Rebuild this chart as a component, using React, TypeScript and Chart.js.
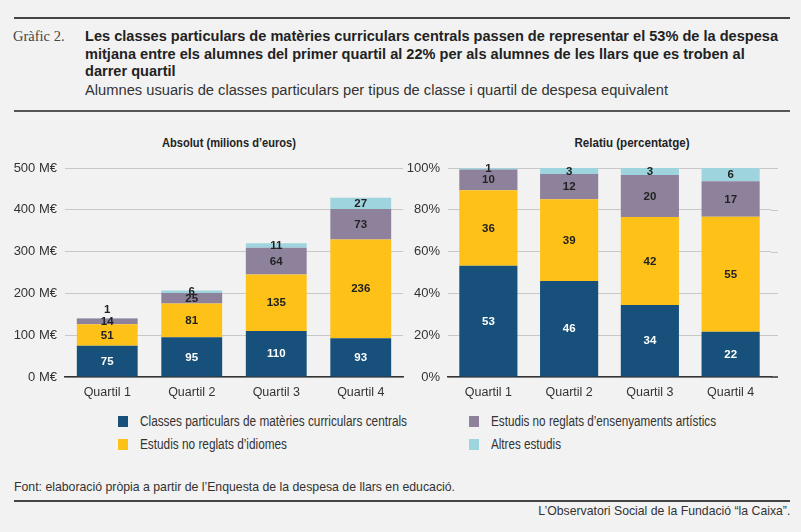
import React, { useEffect, useLayoutEffect, useRef } from "react";
import { Chart, registerables } from "chart.js";

Chart.register(...registerables);

// ---------- data ----------
const categories = ["Quartil 1", "Quartil 2", "Quartil 3", "Quartil 4"];
const seriesNames = [
  "Classes particulars de matèries curriculars centrals",
  "Estudis no reglats d’idiomes",
  "Estudis no reglats d’ensenyaments artístics",
  "Altres estudis",
];
// Absolute (millions of euros)
const absCentrals = [75, 95, 110, 93];
const absIdiomes = [51, 81, 135, 236];
const absArtistics = [14, 25, 64, 73];
const absAltres = [1, 6, 11, 27];
// Relative (percentage), labels rounded
const relCentrals = [53.2, 45.9, 34.4, 21.7];
const relIdiomes = [36.2, 39.1, 42.2, 55.0];
const relArtistics = [9.9, 12.1, 20.0, 17.0];
const relAltres = [0.7, 2.9, 3.4, 6.3];

const absTicks = { max: 500, step: 100, suffix: " M€" };
const relTicks = { max: 100, step: 20, suffix: "%" };

const COLORS = ["#17507a", "#fec118", "#8e819c", "#9ed4de"];
const BG = "#f2f2f2";
const GRID = "#c8c8c8";
const SANS = '"Liberation Sans", Arial, sans-serif';

const segLabels = {
  id: "segLabels",
  afterDatasetsDraw(chart: any) {
    const { ctx } = chart;
    ctx.save();
    ctx.font = `bold 11.5px ${SANS}`;
    ctx.textAlign = "center";
    ctx.textBaseline = "middle";
    const n = chart.data.labels.length;
    for (let i = 0; i < n; i++) {
      let prevY = Infinity;
      chart.data.datasets.forEach((ds: any, di: number) => {
        const el = chart.getDatasetMeta(di).data[i];
        if (!el) return;
        let y = (el.y + el.base) / 2;
        if (prevY - y < 6) y = prevY - 12;
        ctx.fillStyle = di === 0 ? "#ffffff" : "#222222";
        ctx.fillText(String(Math.round(ds.data[i])), el.x, y + 0.5);
        prevY = y;
      });
    }
    ctx.restore();
  },
};

const gridExtend = {
  id: "gridExtend",
  beforeDatasetsDraw(chart: any, _args: any, opts: any) {
    const ext = (opts && opts.ext) || 0;
    if (!ext) return;
    const { ctx, chartArea } = chart;
    const y = chart.scales.y;
    ctx.save();
    y.ticks.forEach((t: any) => {
      const py = Math.round(y.getPixelForValue(t.value));
      const isBase = t.value === 0;
      ctx.strokeStyle = isBase ? "#333333" : GRID;
      ctx.lineWidth = isBase ? 1.5 : 1;
      ctx.beginPath();
      ctx.moveTo(chartArea.right, py + (isBase ? 0 : 0.5));
      ctx.lineTo(chartArea.right + ext, py + (isBase ? 0 : 0.5));
      ctx.stroke();
    });
    ctx.restore();
  },
};

function makeConfig(
  values: number[][],
  ticks: { max: number; step: number; suffix: string },
  yWidth: number,
  padRight: number,
  ext: number
): any {
  return {
    type: "bar",
    data: {
      labels: categories,
      datasets: values.map((v, i) => ({
        label: seriesNames[i],
        data: v,
        backgroundColor: COLORS[i],
        borderWidth: 0,
        barPercentage: 0.72,
        categoryPercentage: 1,
      })),
    },
    options: {
      responsive: false,
      animation: false,
      devicePixelRatio: 1,
      layout: { padding: { top: 38, right: padRight, left: 0, bottom: 0 } },
      plugins: {
        legend: { display: false },
        tooltip: { enabled: false },
        title: { display: false },
        gridExtend: { ext },
      },
      scales: {
        x: {
          stacked: true,
          grid: { display: false, drawTicks: false },
          border: { display: true, color: "#333333", width: 1.5 },
          ticks: { color: "#333333", font: { family: SANS, size: 12.5 }, padding: 8 },
          afterFit: (s: any) => {
            s.height = 28;
          },
        },
        y: {
          stacked: true,
          min: 0,
          max: ticks.max,
          grid: { color: GRID, drawTicks: false, lineWidth: 1 },
          border: { display: false },
          ticks: {
            stepSize: ticks.step,
            color: "#333333",
            font: { family: SANS, size: 13 },
            padding: 8,
            callback: (v: any) => `${v}${ticks.suffix}`,
          },
          afterFit: (s: any) => {
            s.width = yWidth;
          },
        },
      },
    },
    plugins: [gridExtend, segLabels],
  };
}

function BarChart(props: {
  values: number[][];
  ticks: { max: number; step: number; suffix: string };
  left: number;
  width: number;
  yWidth: number;
  padRight: number;
  ext: number;
}) {
  const ref = useRef<HTMLCanvasElement | null>(null);
  useEffect(() => {
    if (!ref.current) return;
    const chart = new Chart(
      ref.current,
      makeConfig(props.values, props.ticks, props.yWidth, props.padRight, props.ext)
    );
    return () => chart.destroy();
  }, []);
  return (
    <canvas
      ref={ref}
      width={props.width}
      height={275}
      style={{ position: "absolute", left: props.left, top: 130, width: props.width, height: 275 }}
    />
  );
}

// Text block horizontally squeezed to a target width (narrow grotesque look)
function Fit(props: {
  width: number;
  anchor?: "left" | "right" | "center";
  style: React.CSSProperties;
  children: React.ReactNode;
}) {
  const ref = useRef<HTMLDivElement | null>(null);
  const anchor = props.anchor || "left";
  useLayoutEffect(() => {
    const el = ref.current;
    if (!el) return;
    el.style.transform = anchor === "center" ? "translateX(-50%)" : "none";
    const w = el.getBoundingClientRect().width;
    const s = w > 0 ? props.width / w : 1;
    el.style.transform = anchor === "center" ? `translateX(-50%) scaleX(${s})` : `scaleX(${s})`;
  }, []);
  return (
    <div
      ref={ref}
      style={{
        position: "absolute",
        margin: 0,
        whiteSpace: "nowrap",
        transformOrigin: anchor === "right" ? "right center" : anchor === "center" ? "center center" : "left center",
        fontFamily: SANS,
        ...props.style,
      }}
    >
      {props.children}
    </div>
  );
}

const abs = (s: React.CSSProperties): React.CSSProperties => ({ position: "absolute", margin: 0, ...s });

const legendPos = [
  { x: 118, y: 421, w: 267 },
  { x: 118, y: 444, w: 147 },
  { x: 469, y: 421, w: 225 },
  { x: 469, y: 444, w: 70 },
];

export default function App() {
  return (
    <div
      style={{
        position: "absolute",
        left: 0,
        top: 0,
        width: 801,
        height: 532,
        background: BG,
        overflow: "hidden",
        color: "#333",
      }}
    >
      <div style={abs({ left: 14, top: 17, width: 776, height: 2, background: "#444" })} />
      <div
        style={abs({
          left: 13,
          top: 27,
          lineHeight: "18px",
          fontFamily: '"Liberation Serif", "DejaVu Serif", serif',
          fontSize: 14.5,
          color: "#444",
        })}
      >
        Gràfic 2.
      </div>
      <Fit
        width={693}
        style={{ left: 85, top: 27, lineHeight: "17.5px", fontWeight: "bold", fontSize: 15.5, color: "#222" }}
      >
        Les classes particulars de matèries curriculars centrals passen de representar el 53% de la despesa
        <br />
        mitjana entre els alumnes del primer quartil al 22% per als alumnes de les llars que es troben al
        <br />
        darrer quartil
      </Fit>
      <Fit width={583} style={{ left: 85, top: 81, lineHeight: "18px", fontSize: 15.5, color: "#333" }}>
        Alumnes usuaris de classes particulars per tipus de classe i quartil de despesa equivalent
      </Fit>
      <div style={abs({ left: 14, top: 110, width: 776, height: 2, background: "#555" })} />

      <Fit
        width={134}
        anchor="center"
        style={{ left: 229, top: 135, lineHeight: "16px", fontWeight: "bold", fontSize: 13, color: "#222" }}
      >
        Absolut (milions d’euros)
      </Fit>
      <Fit
        width={115}
        anchor="center"
        style={{ left: 632, top: 135, lineHeight: "16px", fontWeight: "bold", fontSize: 13, color: "#222" }}
      >
        Relatiu (percentatge)
      </Fit>

      <BarChart
        values={[absCentrals, absIdiomes, absArtistics, absAltres]}
        ticks={absTicks}
        left={0}
        width={404}
        yWidth={65}
        padRight={1}
        ext={0}
      />
      <BarChart
        values={[relCentrals, relIdiomes, relArtistics, relAltres]}
        ticks={relTicks}
        left={404}
        width={397}
        yWidth={44}
        padRight={30}
        ext={7}
      />

      {legendPos.map((p, i) => (
        <React.Fragment key={i}>
          <div style={abs({ left: p.x, top: p.y - 5.5, width: 10, height: 11, background: COLORS[i] })} />
          <Fit width={p.w} style={{ left: p.x + 22, top: p.y - 9, lineHeight: "18px", fontSize: 14, color: "#333" }}>
            {seriesNames[i]}
          </Fit>
        </React.Fragment>
      ))}

      <Fit width={441} style={{ left: 14, top: 479, lineHeight: "16px", fontSize: 13, color: "#333" }}>
        Font: elaboració pròpia a partir de l’Enquesta de la despesa de llars en educació.
      </Fit>
      <div style={abs({ left: 14, top: 500, width: 776, height: 2, background: "#444" })} />
      <Fit width={252} anchor="right" style={{ right: 11, top: 503, lineHeight: "16px", fontSize: 13, color: "#333" }}>
        L’Observatori Social de la Fundació “la Caixa”.
      </Fit>
    </div>
  );
}
